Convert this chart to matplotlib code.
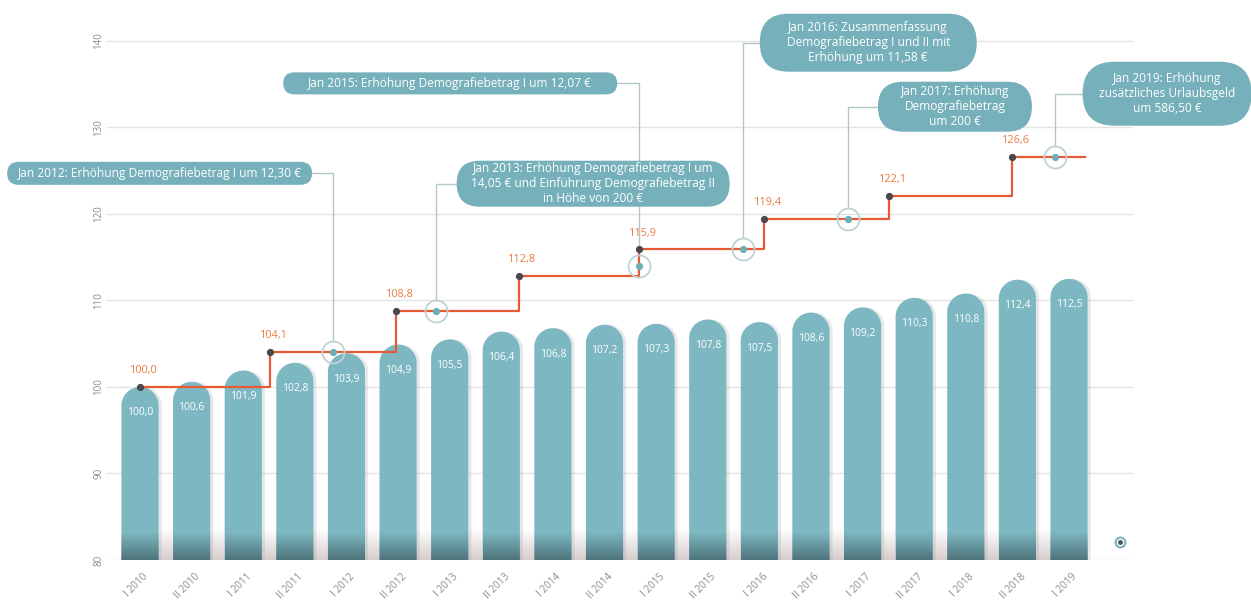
import numpy as np
import matplotlib
matplotlib.use("Agg")
import matplotlib.pyplot as plt
from matplotlib.patches import PathPatch, FancyBboxPatch
from matplotlib.path import Path
from matplotlib.colors import to_rgb
import matplotlib.transforms as mtransforms

plt.rcParams['font.family'] = ['Open Sans', 'DejaVu Sans']

# ---------------- data ----------------
periods = ["I 2010", "II 2010", "I 2011", "II 2011", "I 2012", "II 2012", "I 2013",
           "II 2013", "I 2014", "II 2014", "I 2015", "II 2015", "I 2016", "II 2016",
           "I 2017", "II 2017", "I 2018", "II 2018", "I 2019"]
bar_values = [100.0, 100.6, 101.9, 102.8, 103.9, 104.9, 105.5, 106.4, 106.8, 107.2,
              107.3, 107.8, 107.5, 108.6, 109.2, 110.3, 110.8, 112.4, 112.5]

# step line (positions on the period axis)
step_x = [0.0, 2.52, 4.96, 7.34, 9.67, 12.09, 14.52, 16.9]
step_values = [100.0, 104.1, 108.8, 112.8, 115.9, 119.4, 122.1, 126.6]
step_end_x = 18.31

# events
event_labels = [
    "Jan 2012: Erhöhung Demografiebetrag I um 12,30 €",
    "Jan 2013: Erhöhung Demografiebetrag I um\n14,05 € und Einführung Demografiebetrag II\nin Höhe von 200 €",
    "Jan 2015: Erhöhung Demografiebetrag I um 12,07 €",
    "Jan 2016: Zusammenfassung\nDemografiebetrag I und II mit\nErhöhung um 11,58 €",
    "Jan 2017: Erhöhung\nDemografiebetrag\num 200 €",
    "Jan 2019: Erhöhung\nzusätzliches Urlaubsgeld\num 586,50 €",
]
event_x = [3.73, 5.73, 9.67, 11.69, 13.71, 17.73]
event_y = [104.1, 108.8, 114.0, 115.9, 119.4, 126.6]

yticks = [80, 90, 100, 110, 120, 130, 140]

# ---------------- layout ----------------
box_cx = [0.38, 8.78, 6.01, 14.11, 15.79, 19.9]
box_cy = [124.7, 123.5, 135.1, 139.8, 132.4, 133.9]
box_w = [305, 273, 334, 217, 154, 169]
box_h = [23, 46, 22, 58, 50, 64]

BAR = '#7db7c1'
BOX = '#76b0ba'
LINE = '#e65a36'
LABEL = '#ea7a40'
GRID = '#e4e4e4'
TICK = '#8c8c8c'

W_PX, H_PX = 1251, 603
fig = plt.figure(figsize=(W_PX / 100, H_PX / 100), dpi=100)
ax_l, ax_r, ax_b, ax_t = 107, 1133, 560, 10
ax = fig.add_axes([ax_l / W_PX, (H_PX - ax_b) / H_PX, (ax_r - ax_l) / W_PX, (ax_b - ax_t) / H_PX])
xmin, xmax = -0.64, 19.24
ymin, ymax = 80, 143.58
ax.set_xlim(xmin, xmax)
ax.set_ylim(ymin, ymax)
ppx = (ax_r - ax_l) / (xmax - xmin)
ppy = (ax_b - ax_t) / (ymax - ymin)

for s in ax.spines.values():
    s.set_visible(False)
ax.set_yticks(yticks)
ax.set_yticklabels([str(t) for t in yticks], rotation=90, va='center', color=TICK,
                   fontsize=7, fontweight='medium')
ax.yaxis.grid(True, color=GRID, lw=1)
ax.set_axisbelow(True)
ax.tick_params(axis='y', length=0, pad=2)

xpos = np.arange(len(periods))
ax.set_xticks(xpos)
ax.set_xticklabels(periods, rotation=45, ha='right', va='top', rotation_mode='anchor',
                   color=TICK, fontsize=7.2, fontweight='medium')
ax.tick_params(axis='x', length=0, pad=8)
offset = mtransforms.ScaledTranslation(2 / 72, 0, fig.dpi_scale_trans)
for lab in ax.get_xticklabels():
    lab.set_transform(lab.get_transform() + offset)

# ---------------- bars ----------------
bw = 0.72
ry = (bw * ppx / 2) / ppy


def bar_path(xc, top, dx=0.0):
    t = np.linspace(0, np.pi, 48)
    xs = [xc - bw / 2 + dx, xc + bw / 2 + dx] + list(xc + dx + bw / 2 * np.cos(t)) + [xc - bw / 2 + dx]
    ys = [ymin, ymin] + list(top - ry + ry * np.sin(t)) + [ymin]
    verts = list(zip(xs, ys))
    codes = [Path.MOVETO] + [Path.LINETO] * (len(verts) - 2) + [Path.CLOSEPOLY]
    return Path(verts, codes)


# faint background shade at the bottom between bars
bg = np.zeros((64, 1, 4))
bg[..., :3] = to_rgb('#b8a3a7')
bg[:, 0, 3] = np.linspace(0.55, 0.0, 64)
ax.imshow(bg, extent=[-0.36, len(periods) - 0.64, ymin, 83.6], origin='lower',
          aspect='auto', zorder=0.6, interpolation='bilinear')

dark = np.zeros((64, 1, 4))
dark[..., :3] = to_rgb('#3d5a60')
dark[:, 0, 3] = np.linspace(0.72, 0.0, 64)

for x, v in zip(xpos, bar_values):
    sh = PathPatch(bar_path(x, v, dx=0.06), fc='#8f9a9c', ec='none', alpha=0.22, zorder=1.5)
    ax.add_patch(sh)
    p = PathPatch(bar_path(x, v), fc=BAR, ec='none', zorder=2)
    ax.add_patch(p)
    im = ax.imshow(dark, extent=[x - bw / 2, x + bw / 2, ymin, 83.2], origin='lower',
                   aspect='auto', zorder=2.1, interpolation='bilinear')
    im.set_clip_path(p)
    ax.text(x, v - 3.0, f"{v:.1f}".replace('.', ','), ha='center', va='center',
            color='white', fontsize=7.5, fontweight='medium', zorder=3)

ax.set_xlim(xmin, xmax)
ax.set_ylim(ymin, ymax)

# ---------------- step line ----------------
sx = step_x + [step_end_x]
sy = step_values + [step_values[-1]]
ax.step(sx, sy, where='post', color=LINE, lw=1.6, zorder=4)
ax.plot(step_x, step_values, 'o', ms=4.2, color='#4a4a4a', zorder=5)
for x, v in zip(step_x, step_values):
    ax.text(x + 0.07, v + 1.9, f"{v:.1f}".replace('.', ','), ha='center', va='center',
            color=LABEL, fontsize=7.8, fontweight='medium', zorder=5)

# ---------------- events ----------------
ring_px = 11
ring_r = ring_px / ppy
for i, (ex, ey) in enumerate(zip(event_x, event_y)):
    bx, by = box_cx[i], box_cy[i]
    half = (box_w[i] / 2) / ppx
    edge = bx + half if bx < ex else bx - half
    ax.plot([edge, ex, ex], [by, by, ey + ring_r], color='#b3c8ca', lw=1, zorder=3.5,
            clip_on=False, solid_joinstyle='miter')
    ax.plot([ex], [ey], 'o', ms=2 * ring_px * 0.72, mfc='none', mec='#bdd3d6', mew=1.3, zorder=6)
    ax.plot([ex], [ey], 'o', ms=4.2, color='#6eaeb5', zorder=6.5)

fig.canvas.draw()
for i in range(len(event_labels)):
    dx, dy = ax.transData.transform((box_cx[i], box_cy[i]))
    W, H = box_w[i], box_h[i]
    patch = FancyBboxPatch((dx - W / 2, dy - H / 2), W, H,
                           boxstyle=f"round,pad=0,rounding_size={H / 2}",
                           transform=mtransforms.IdentityTransform(),
                           fc=BOX, ec='none', zorder=7)
    fig.add_artist(patch)
    fig.text(dx / W_PX, dy / H_PX, event_labels[i], ha='center', va='center',
             ma='center', color='white', fontsize=8.6, fontweight='medium',
             linespacing=1.18, zorder=8)

# small logo mark bottom right
ax.plot([18.99], [82.1], 'o', ms=7, mfc='white', mec='#7db7c1', mew=1.6, zorder=3, clip_on=False)
ax.plot([18.99], [82.1], 'o', ms=2.5, color='#555555', zorder=3.1, clip_on=False)

fig.savefig('out.png', dpi=100)
